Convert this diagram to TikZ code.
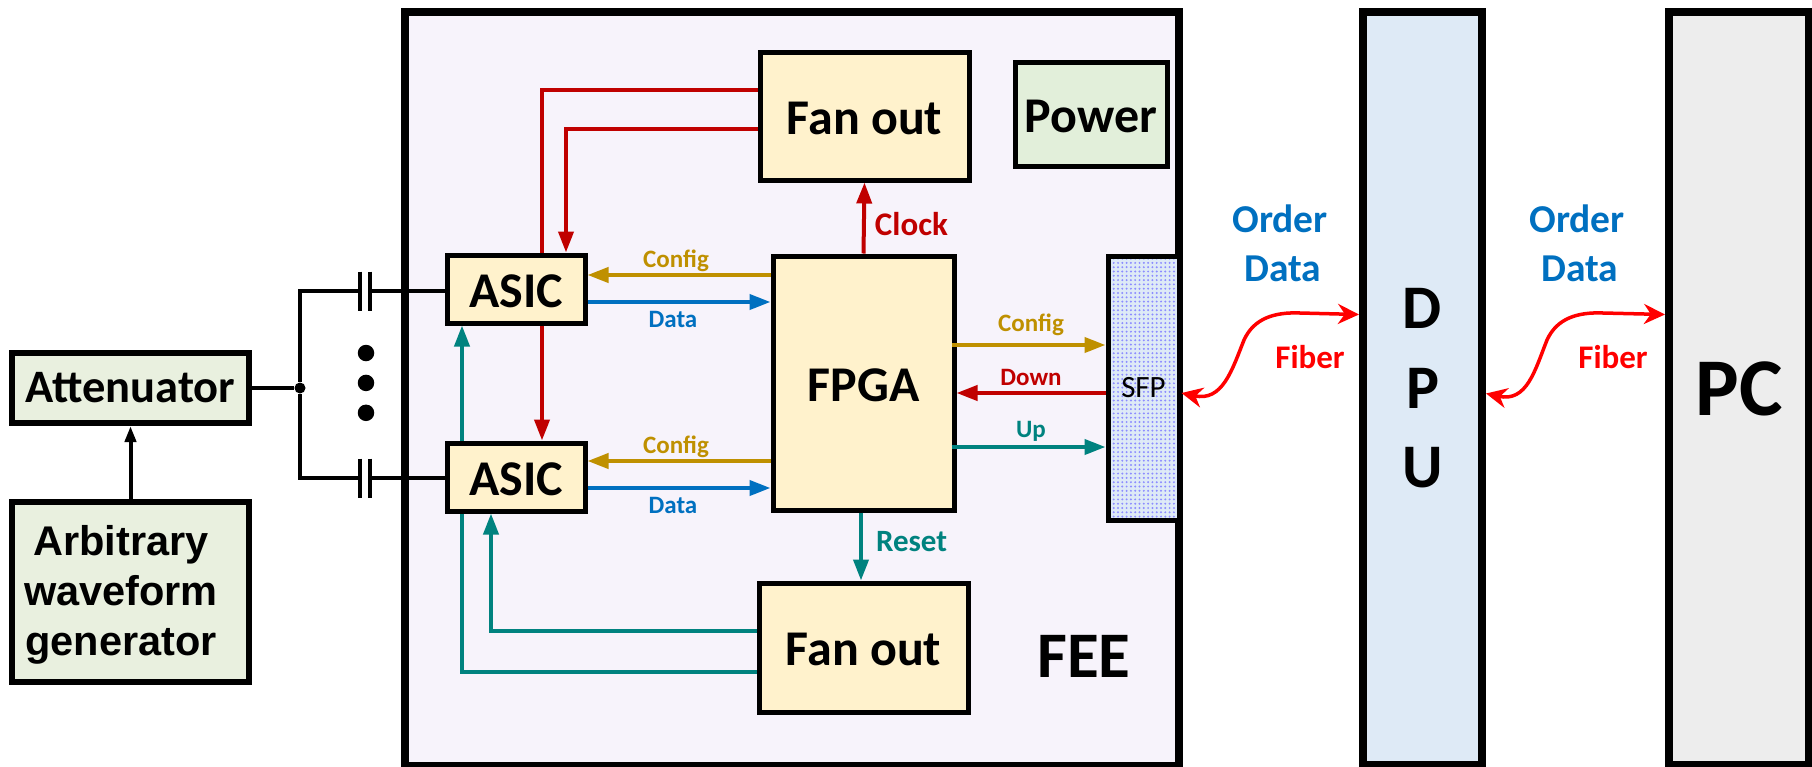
\documentclass[tikz,border=0pt]{standalone}
\usepackage{fontspec}
\setmainfont{Carlito}
\newfontfamily\arialfont{Liberation Sans}
\usetikzlibrary{arrows.meta,patterns.meta,positioning}
\definecolor{cream}{HTML}{FFF2CC}
\definecolor{sage}{HTML}{E9F0DF}
\definecolor{powergreen}{HTML}{E2EFDA}
\definecolor{feeviolet}{HTML}{F7F3FB}
\definecolor{dpublue}{HTML}{DEEAF6}
\definecolor{pcgrey}{HTML}{EDEDED}
\definecolor{configgold}{HTML}{BF9000}
\definecolor{datablue}{HTML}{0070C0}
\definecolor{clockred}{HTML}{C00000}
\definecolor{resetteal}{HTML}{00827F}
\definecolor{fiberred}{HTML}{FF0000}
\newcommand{\fsize}[1]{\fontsize{#1}{#1}\selectfont}
\tikzset{
box/.style={draw=black, rectangle, inner sep=0, line width=5pt},
chipbox/.style={box, fill=cream, text height=36pt, text depth=0pt, font=\bfseries\fsize{50}},
txt/.style={inner sep=0, font=\bfseries\fsize{#1}},
configline/.style={line width=4pt, configgold},
dataline/.style={line width=4pt, datablue},
clockline/.style={line width=4pt, clockred},
resetline/.style={line width=4pt, resetteal},
wire/.style={line width=4pt, black},
fiberline/.style={line width=3.5pt, fiberred, {Stealth[length=21pt,width=20pt]}-{Stealth[length=21pt,width=20pt]}}
}
\begin{document}
\begin{tikzpicture}[x=1pt, y=-1pt, >={Triangle[length=21pt,width=15pt]}]
\useasboundingbox (0,0) rectangle (1812,766);
\node (fee) [box, fill=feeviolet, line width=8pt, minimum width=774pt, minimum height=754pt] at (792,389) {};
\node (dpu) [box, fill=dpublue, line width=8pt, minimum width=119pt, minimum height=753pt, align=center, font=\bfseries\fontsize{62}{79.5}\selectfont] at (1422.5,388.5) {D\\P\\U};
\node (pc) [box, fill=pcgrey, line width=8pt, minimum width=140pt, minimum height=753pt, font=\bfseries\fsize{82}] at (1739,388.5) {PC};
\node (atten) [box, fill=sage, line width=6pt, minimum width=237pt, minimum height=70pt, font=\bfseries\fsize{46.5}] at (130.5,388) {Attenuator};
\node (awg) [box, fill=sage, line width=6pt, minimum width=237pt, minimum height=180pt] at (130.5,592) {};
\node (awgtext) [inner sep=0, align=center, font=\arialfont\bfseries\fontsize{41.5}{50}\selectfont] at (121,595) {Arbitrary\\waveform\\generator};
\node (asicA) [chipbox, minimum width=138pt, minimum height=68pt] at (516,289) {ASIC};
\node (asicB) [chipbox, minimum width=138pt, minimum height=68pt] at (516,477) {ASIC};
\node (fanoutA) [chipbox, minimum width=209pt, minimum height=128pt] at (864.5,116) {Fan out};
\node (fanoutB) [chipbox, minimum width=209pt, minimum height=129pt] at (863.5,647.5) {Fan out};
\node (fpga) [chipbox, minimum width=181pt, minimum height=254pt] at (863.5,383) {FPGA};
\node (power) [chipbox, fill=powergreen, minimum width=152pt, minimum height=104pt] at (1091,114) {Power};
\node (sfp) [box, pattern={Dots[distance=4.3pt,radius=1.1pt]}, pattern color=blue!45, preaction={fill=dpublue}, minimum width=71pt, minimum height=264pt, font=\fsize{31}] at (1143.5,388) {SFP};
\node (fee label) [txt=65] at (1084,656) {FEE};
\node (dotA) [circle, fill=black, inner sep=0, minimum size=16.5pt] at (366,353) {};
\node (dotB) [circle, fill=black, inner sep=0, minimum size=16.5pt, below=13pt of dotA] {};
\node (dotC) [circle, fill=black, inner sep=0, minimum size=16.5pt, below=13pt of dotB] {};
\node (junction) [circle, fill=black, inner sep=0, minimum size=11pt] at (300,388) {};
\coordinate (capAl) at (360,291);
\coordinate (capAr) at (370,291);
\coordinate (capBl) at (360,478);
\coordinate (capBr) at (370,478);
\draw[wire] (atten.east) -- (junction);
\draw[wire] (junction) |- (capAl);
\draw[wire] (junction) |- (capBl);
\draw[wire] (capAr) -- (asicA.west |- capAr);
\draw[wire] (capBr) -- (asicB.west |- capBr);
\draw[wire] ([yshift=19.5pt]capAl) -- ([yshift=-19.5pt]capAl);
\draw[wire] ([yshift=19.5pt]capAr) -- ([yshift=-19.5pt]capAr);
\draw[wire] ([yshift=19.5pt]capBl) -- ([yshift=-19.5pt]capBl);
\draw[wire] ([yshift=19.5pt]capBr) -- ([yshift=-19.5pt]capBr);
\draw[wire, -{Triangle[length=16pt,width=11pt]}] (awg.north) -- (atten.south);
\draw[->, clockline] (fpga.north) -- (fanoutA.south) node[pos=0.42, txt=33, right=9pt] (clock label) {Clock};
\draw[clockline] ([yshift=26pt]fanoutA.west) -| ([xshift=26pt]asicA.north);
\draw[->, clockline] ([yshift=-13pt]fanoutA.west) -| ([xshift=50pt]asicA.north);
\draw[->, clockline] ([xshift=26pt]asicA.south) -- ([xshift=26pt]asicB.north);
\draw[->, resetline] ([xshift=-54pt]asicB.north) -- ([xshift=-54pt]asicA.south);
\draw[->, resetline] ([xshift=-2.5pt]fpga.south) -- ([xshift=-2.5pt]fanoutB.north) node[pos=0.42, txt=31, right=13pt] (reset label) {Reset};
\draw[->, resetline] ([yshift=16.5pt]fanoutB.west) -| ([xshift=-25pt]asicB.south);
\draw[resetline] ([yshift=-24.5pt]fanoutB.west) -| ([xshift=-54pt]asicB.south);
\draw[->, configline] ([yshift=108pt]fpga.west) -- ([yshift=14pt]asicA.east);
\draw[->, dataline] ([yshift=-13pt]asicA.east) -- ([yshift=81pt]fpga.west);
\draw[->, configline] ([yshift=-78pt]fpga.west) -- ([yshift=16pt]asicB.east);
\draw[->, dataline] ([yshift=-11pt]asicB.east) -- ([yshift=-105pt]fpga.west);
\draw[->, configline] ([xshift=-5pt, yshift=38pt]fpga.east) -- ([yshift=43pt]sfp.west);
\draw[->, clockline] ([yshift=-5pt]sfp.west) -- ([yshift=-10pt]fpga.east);
\draw[->, resetline] ([xshift=-5pt, yshift=-64pt]fpga.east) -- ([yshift=-59pt]sfp.west);
\node (config a) [txt=25, text=configgold] at (676,261) {Config};
\node (data a) [txt=25, text=datablue] at (673,319) {Data};
\node (config b) [txt=25, text=configgold] at (676,447) {Config};
\node (data b) [txt=25, text=datablue] at (673,505) {Data};
\node (config c) [txt=25, text=configgold] at (1031,325) {Config};
\node (down) [txt=25, text=clockred] at (1031,377) {Down};
\node (up) [txt=25, text=resetteal] at (1031,431) {Up};
\coordinate (fiberAa) at (1244,340);
\coordinate (fiberAb) at (1300,313);
\coordinate (fiberBa) at (1547,340);
\coordinate (fiberBb) at (1603,313);
\draw[fiberline] ([yshift=-5pt]sfp.east) .. controls +(41,9) and +(-12,30) .. (fiberAa) .. controls +(10,-22) and +(-25,-1) .. (fiberAb) -- ([yshift=74pt]dpu.west);
\draw[fiberline] ([yshift=-5pt]dpu.east) .. controls +(41,9) and +(-12,30) .. (fiberBa) .. controls +(10,-22) and +(-25,-1) .. (fiberBb) -- ([yshift=74pt]pc.west);
\node (order a) [txt=39.5, text=datablue] at (1280,219) {Order};
\node (orderdata a) [txt=39.5, text=datablue] at (1283,269) {Data};
\node (order b) [txt=39.5, text=datablue] at (1577,219) {Order};
\node (orderdata b) [txt=39.5, text=datablue] at (1580,269) {Data};
\node (fiber a) [txt=33, text=fiberred] at (1310,357) {Fiber};
\node (fiber b) [txt=33, text=fiberred] at (1613,357) {Fiber};
\end{tikzpicture}
\end{document}
